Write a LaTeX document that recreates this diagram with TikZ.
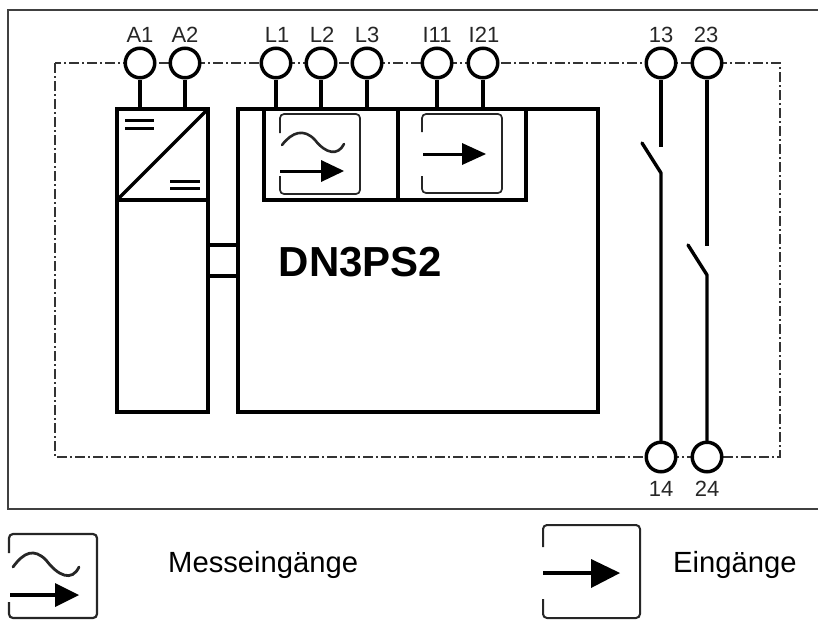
\documentclass[tikz,border=0pt]{standalone}
\usepackage{fontspec}
\setmainfont{Liberation Sans}
\usetikzlibrary{calc}
\tikzset{
  px/.style={x=1pt,y=-1pt},
  term/.style={circle,draw=black,line width=3.5pt,minimum size=29.5pt,inner sep=0pt,fill=white},
  lbl/.style={font=\fontsize{22}{22}\selectfont,text=black!85,inner sep=0pt,anchor=base},
  wire/.style={draw=black,line width=3.4pt},
  thick box/.style={draw=black,line width=3.4pt},
  symb/.style={draw=black!85,line width=1.7pt,rounded corners=4pt},
  ddot/.style={draw=black!80,line width=1.2pt,dash pattern=on 10pt off 3pt on 2pt off 3pt},
  frame/.style={draw=black!75,line width=1.6pt},
  legend/.style={font=\fontsize{29.2}{29}\selectfont,text=black,inner sep=0pt,anchor=base west},
  head/.style={fill=black,draw=none}
}
\begin{document}
\begin{tikzpicture}[px]
\useasboundingbox (0,0) rectangle (818,619);
\draw[frame] (818,10) -- (8,10) -- (8,509) -- (818,509);
\draw[ddot] (55,63) rectangle (780,457);
% boxes
\node[thick box,inner sep=0pt,minimum width=91pt,minimum height=303pt] (psu) at (162.5,260.5) {};
\node[thick box,inner sep=0pt,minimum width=360pt,minimum height=303pt] (main) at (418,260.5) {};
\coordinate (psuDivL) at (117,200);
\coordinate (psuDivR) at (208,200);
\draw[thick box] (psuDivL) -- (psuDivR);
\draw[thick box,line cap=round] (psuDivL) -- (208,109);
\draw[line width=3pt] (125,120) -- (154,120) (125,128) -- (154,128);
\draw[line width=3pt] (170,181) -- (200,181) (170,188.5) -- (200,188.5);
% link
\draw[thick box] (208,245) -- (238,245) (208,276) -- (238,276);
% subboxes
\draw[thick box] (264,109) -- (264,200) -- (526,200) -- (526,109);
\draw[thick box] (398,109) -- (398,200);
% symbols
\draw[symb] (280,133) -- (280,114) -- (360,114) -- (360,194) -- (280,194) -- (280,176);
\draw[line width=2.6pt,draw=black!85,line cap=round] (282,145) .. controls (292,132) and (304,128) .. (315,140) .. controls (326,154) and (338,156) .. (344,144);
\draw[line width=3pt] (280,171) -- (325,171);
\fill[head] (321,160) -- (344,171) -- (321,182) -- cycle;
\draw[symb] (422,132) -- (422,114) -- (502,114) -- (502,193) -- (422,193) -- (422,176);
\draw[line width=3pt] (423,154) -- (466,154);
\fill[head] (462,143) -- (486,154) -- (462,165) -- cycle;
% switches
\node[term] (t13) at (661,63) {};
\node[term] (t23) at (707,63) {};
\node[term] (t14) at (661,457) {};
\node[term] (t24) at (707,457) {};
\coordinate (s1a) at (661,147);
\coordinate (s1b) at (661,173);
\coordinate (s1c) at (642,143);
\coordinate (s2a) at (707,246);
\coordinate (s2b) at (707,275);
\coordinate (s2c) at (688,245);
\draw[wire] (t13) -- (s1a);
\draw[wire,line cap=round,line join=round] (s1c) -- (s1b) -- (t14);
\draw[wire] (t23) -- (s2a);
\draw[wire,line cap=round,line join=round] (s2c) -- (s2b) -- (t24);
% terminals
\foreach \n/\x in {a1/140,a2/185,l1/276,l2/321,l3/367,i11/437,i21/483}{
  \node[term] (t\n) at (\x,63) {};
}
\draw[wire] (ta1) -- (140,108) (ta2) -- (185,108) (tl1) -- (276,108) (tl2) -- (321,108) (tl3) -- (367,108) (ti11) -- (437,108) (ti21) -- (483,108);
% labels
\node[lbl] (la1) at (140,42) {A1};
\node[lbl] (la2) at (185,42) {A2};
\node[lbl] (ll1) at (277,42) {L1};
\node[lbl] (ll2) at (322,42) {L2};
\node[lbl] (ll3) at (367,42) {L3};
\node[lbl] (li11) at (437,42) {I11};
\node[lbl] (li21) at (484,42) {I21};
\node[lbl] (l13) at (661,42) {13};
\node[lbl] (l23) at (706,42) {23};
\node[lbl] (l14) at (661,496) {14};
\node[lbl] (l24) at (707,496) {24};
\node[font=\fontsize{42}{42}\selectfont\bfseries,inner sep=0pt,anchor=base west] (title) at (278.5,276) {DN3PS2};
% legend
\draw[symb,line width=2.2pt] (9,553) -- (9,534) -- (97,534) -- (97,618) -- (9,618) -- (9,602);
\draw[line width=2.8pt,draw=black!85,line cap=round] (13,567) .. controls (24,552) and (34,548) .. (46,560) .. controls (58,576) and (72,582) .. (79,567);
\draw[line width=3.6pt] (10,595) -- (58,595);
\fill[head] (55,583) -- (79,595) -- (55,607) -- cycle;
\node[legend] (m) at (168,572) {Messeingänge};
\draw[symb,line width=2pt] (543,547) -- (543,525) -- (640,525) -- (640,618) -- (543,618) -- (543,599);
\draw[line width=4pt] (543,573) -- (595,573);
\fill[head] (591,559) -- (620,573) -- (591,588) -- cycle;
\node[legend] (e) at (673,572) {Eingänge};
\end{tikzpicture}
\end{document}
